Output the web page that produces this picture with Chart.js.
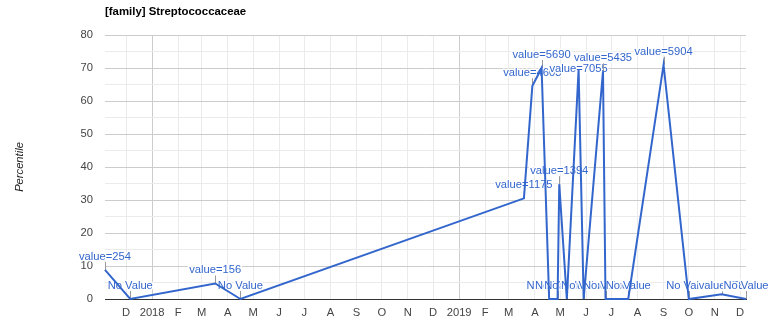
<!DOCTYPE html>
<html>
<head>
<meta charset="utf-8">
<title>Streptococcaceae</title>
<script src="https://cdn.jsdelivr.net/npm/chart.js@4.4.1/dist/chart.umd.min.js"></script>
<style>
  html, body { margin: 0; padding: 0; background: #fff; }
</style>
</head>
<body>
<canvas id="chart" width="776" height="330"></canvas>
<script>
const chartTitle = "[family] Streptococcaceae";
const axisTitle = "Percentile";

// fecha de cada muestra, percentil y valor bruto (null = sin valor)
const sampleDates = ["2017-11-06", "2017-12-06", "2018-03-17", "2018-04-16", "2019-03-19",
  "2019-03-29", "2019-04-09", "2019-04-18", "2019-04-28", "2019-04-30", "2019-05-09",
  "2019-05-23", "2019-05-29", "2019-06-21", "2019-06-24", "2019-07-21", "2019-09-01",
  "2019-10-01", "2019-11-09", "2019-12-08"];
const percentiles = [8.8, 0, 4.7, 0, 30.5, 64.5, 70, 0, 0, 34.8, 0, 69.5, 0, 69, 0, 0, 71, 0, 1.4, 0];
const rawValues = [254, null, 156, null, 1175, 4603, 5690, null, null, 1394, null, 7055, null, 5435,
  null, null, 5904, null, 78, null];

const monthLabels = ["J", "F", "M", "A", "M", "J", "J", "A", "S", "O", "N", "D"];
const yTickLabels = [0, 10, 20, 30, 40, 50, 60, 70, 80];

const FONT = "'Liberation Sans', Arial, sans-serif";
const times = sampleDates.map(d => new Date(d + "T00:00:00Z").getTime());

// ticks al inicio de cada mes
const monthTicks = [];
{
  const first = new Date(times[0]);
  let y = first.getUTCFullYear(), m = first.getUTCMonth() + 1;
  while (Date.UTC(y, m, 1) <= times[times.length - 1]) {
    monthTicks.push(Date.UTC(y, m, 1));
    m++;
    if (m > 11) { m = 0; y++; }
  }
}

// anotaciones: texto encima de cada punto con su palito gris
const notesPlugin = {
  id: "notes",
  beforeDatasetsDraw(chart, args, opts) {
    const ctx = chart.ctx;
    const pts = chart.getDatasetMeta(0).data;
    ctx.save();
    ctx.font = "11.2px " + FONT;
    ctx.textAlign = "center";
    ctx.textBaseline = "alphabetic";
    ctx.lineJoin = "round";
    pts.forEach((p, i) => {
      const lift = opts.lift[i] ?? 10;
      const stem = Math.max(0, lift - 2);
      const x = Math.round(p.x) + 0.5;
      if (stem > 0) {
        ctx.strokeStyle = "#999";
        ctx.lineWidth = 1;
        ctx.beginPath();
        ctx.moveTo(x, p.y);
        ctx.lineTo(x, p.y - stem);
        ctx.stroke();
      }
      const txt = rawValues[i] == null ? "No Value" : "value=" + rawValues[i];
      ctx.strokeStyle = "#fff";
      ctx.lineWidth = 3;
      ctx.strokeText(txt, p.x, p.y - lift);
      ctx.fillStyle = "#3366cc";
      ctx.fillText(txt, p.x, p.y - lift);
    });
    ctx.restore();
  }
};

const titlesPlugin = {
  id: "titles",
  afterDraw(chart) {
    const { ctx, chartArea } = chart;
    ctx.save();
    ctx.font = "bold 11.4px " + FONT;
    ctx.fillStyle = "#000";
    ctx.textAlign = "left";
    ctx.textBaseline = "middle";
    ctx.fillText(chartTitle, chartArea.left, 12);
    ctx.translate(20, (chartArea.top + chartArea.bottom) / 2);
    ctx.rotate(-Math.PI / 2);
    ctx.font = "italic 11.2px " + FONT;
    ctx.fillStyle = "#222";
    ctx.textAlign = "center";
    ctx.fillText(axisTitle, 0, 0);
    ctx.restore();
  }
};

new Chart(document.getElementById("chart"), {
  type: "line",
  data: {
    datasets: [{
      data: times.map((t, i) => ({ x: t, y: percentiles[i] })),
      borderColor: "#3366cc",
      borderWidth: 2,
      pointRadius: 0,
      tension: 0,
      clip: 4
    }]
  },
  options: {
    responsive: false,
    animation: false,
    layout: { padding: { top: 35, right: 30, bottom: 0, left: 0 } },
    plugins: {
      legend: { display: false },
      tooltip: { enabled: false },
      notes: { lift: { 11: -2, 18: 5 } }
    },
    scales: {
      x: {
        type: "linear",
        min: times[0],
        max: times[times.length - 1],
        afterBuildTicks: s => { s.ticks = monthTicks.map(v => ({ value: v })); },
        afterFit: s => { s.height = 31; },
        ticks: {
          autoSkip: false,
          maxRotation: 0,
          padding: 7,
          color: "#444",
          font: { family: FONT, size: 11.2 },
          callback: v => {
            const d = new Date(v);
            return d.getUTCMonth() === 0 ? String(d.getUTCFullYear()) : monthLabels[d.getUTCMonth()];
          }
        },
        grid: {
          drawTicks: false,
          color: c => (c.tick && new Date(c.tick.value).getUTCMonth() === 0) ? "#cccccc" : "#ebebeb"
        },
        border: { display: true, color: "#333" }
      },
      y: {
        min: 0,
        max: 80,
        afterFit: s => { s.width = 105; },
        ticks: {
          stepSize: 5,
          padding: 12,
          color: "#444",
          font: { family: FONT, size: 11.2 },
          callback: v => yTickLabels.includes(v) ? v : ""
        },
        grid: {
          drawTicks: false,
          color: c => c.tick.value === 0 ? "#333" : (c.tick.value % 10 === 0 ? "#cccccc" : "#ebebeb")
        },
        border: { display: false }
      }
    }
  },
  plugins: [notesPlugin, titlesPlugin]
});
</script>
</body>
</html>
